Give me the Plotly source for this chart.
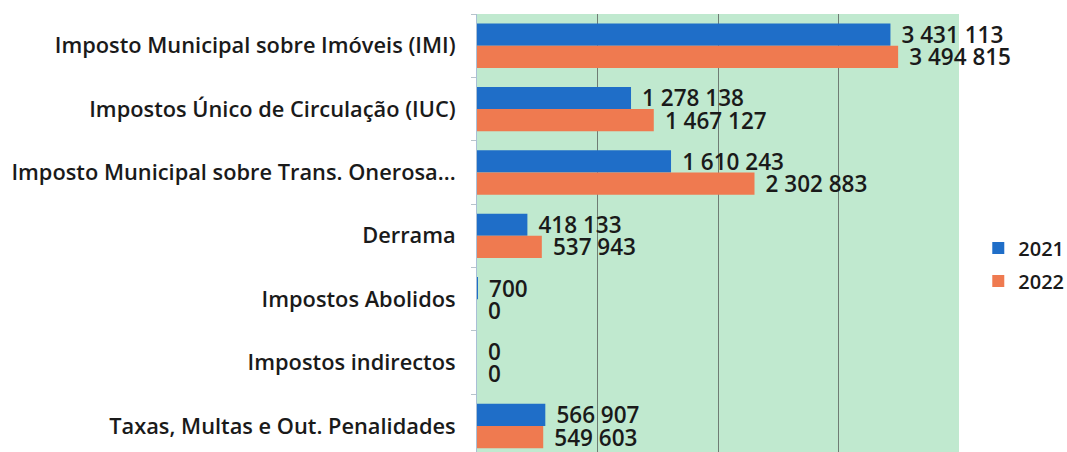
import plotly.graph_objects as go

categories = [
    "Imposto Municipal sobre Imóveis (IMI)",
    "Impostos Único de Circulação (IUC)",
    "Imposto Municipal sobre Trans. Onerosa...",
    "Derrama",
    "Impostos Abolidos",
    "Impostos indirectos",
    "Taxas, Multas e Out. Penalidades",
]
values_2021 = [3431113, 1278138, 1610243, 418133, 700, 0, 566907]
values_2022 = [3494815, 1467127, 2302883, 537943, 0, 0, 549603]
series_names = ["2021", "2022"]
series_colors = ["#1f6ec8", "#ef7a50"]

FONT = "Open Sans"
TXT = "#1a1a1a"
label_font = dict(family=FONT, size=22.5, color=TXT, weight=600)

fig = go.Figure()
for name, vals, col in zip(series_names, [values_2021, values_2022], series_colors):
    fig.add_trace(go.Bar(
        y=categories, x=vals, name=name, orientation="h",
        marker=dict(color=col, line=dict(width=0)),
        texttemplate="\u00a0\u200a%{x:,}", textposition="outside",
        textfont=label_font, cliponaxis=False, constraintext="none",
        legendgroup=name,
    ))

fig.update_layout(
    width=1067, height=452,
    margin=dict(l=477, r=108, t=14, b=0, autoexpand=False),
    paper_bgcolor="white", plot_bgcolor="#c0e9cf",
    barmode="group", bargap=0.3, bargroupgap=0.0,
    separators=", ",
    font=dict(family=FONT, size=22, color=TXT),
    showlegend=True,
    legend=dict(x=1.04, xanchor="left", y=0.51, yanchor="top",
                font=dict(family=FONT, size=20, color=TXT, weight=600),
                tracegroupgap=4, bgcolor="rgba(0,0,0,0)", itemwidth=30),
)
fig.update_xaxes(range=[0, 4000000], dtick=1000000, showticklabels=False,
                 showgrid=True, gridcolor="#6f7c74", gridwidth=1,
                 zeroline=False, showline=False, ticks="", automargin=False)
fig.update_yaxes(autorange=False, range=[6.41, -0.5], type="category",
                 tickson="boundaries", ticks="outside", ticklen=5, tickcolor="#b8c4cc",
                 showline=True, linecolor="#a9bfd6", linewidth=1,
                 ticklabelstandoff=16, showgrid=False, automargin=False,
                 tickfont=dict(family=FONT, size=21.8, color=TXT, weight=600))

fig.write_html("out.html", post_script="document.body.style.margin='0';",
               config={"displayModeBar": False})
